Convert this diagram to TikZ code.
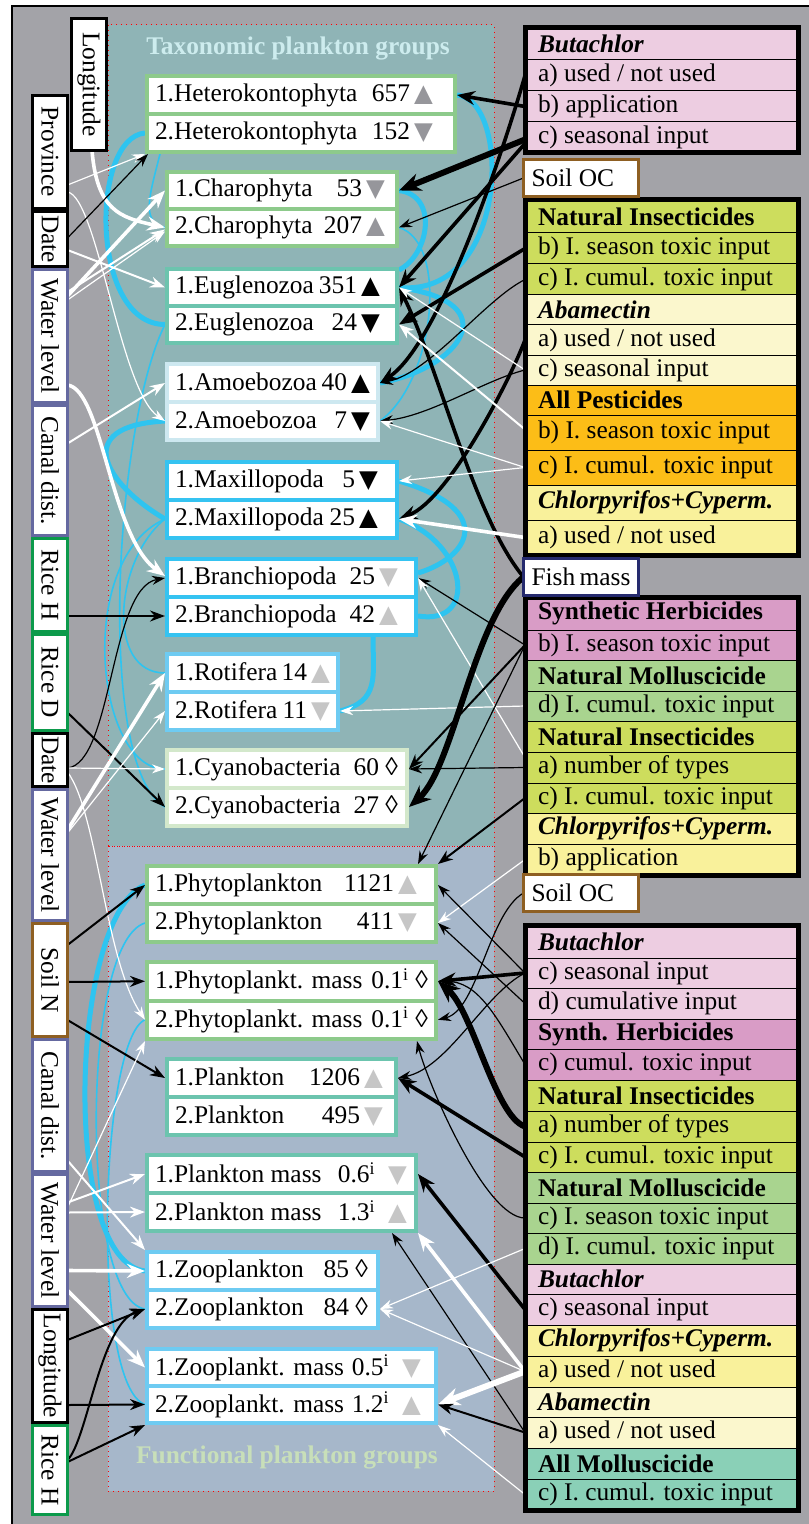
\documentclass[tikz,border=0pt]{standalone}
\usepackage{fontspec}
\usepackage{graphicx}
\setmainfont{Liberation Serif}
\newfontfamily\symf{DejaVu Sans}
\usetikzlibrary{arrows.meta,calc}
\pgfdeclarelayer{bg}\pgfdeclarelayer{mid}\pgfsetlayers{bg,mid,main}
\definecolor{greyc}{RGB}{163,163,168}
\definecolor{taxc}{RGB}{143,180,182}
\definecolor{funcc}{RGB}{166,183,202}
\definecolor{titA}{RGB}{205,236,238}
\definecolor{titB}{RGB}{200,223,185}
\definecolor{gfr}{RGB}{141,202,139}
\definecolor{tfr}{RGB}{108,196,174}
\definecolor{pbfr}{RGB}{205,232,240}
\definecolor{cfr}{RGB}{53,195,241}
\definecolor{lbfr}{RGB}{110,203,242}
\definecolor{pgfr}{RGB}{211,232,203}
\definecolor{lpur}{RGB}{101,105,160}
\definecolor{lgrn}{RGB}{12,154,75}
\definecolor{lbrn}{RGB}{142,95,34}
\definecolor{navyc}{RGB}{37,42,110}
\definecolor{pinkl}{RGB}{237,205,225}
\definecolor{pinkd}{RGB}{217,156,198}
\definecolor{limec}{RGB}{205,221,93}
\definecolor{paley}{RGB}{251,247,205}
\definecolor{orng}{RGB}{252,189,23}
\definecolor{yelc}{RGB}{249,241,155}
\definecolor{grnm}{RGB}{169,212,143}
\definecolor{tealm}{RGB}{138,208,183}
\definecolor{cyanl}{RGB}{46,196,240}
\definecolor{gd}{RGB}{150,150,155}
\definecolor{gl}{RGB}{198,198,198}
\newcommand\myfs{\fontsize{12.7}{15}\selectfont}
\newcommand\tup[1]{{\symf\fontsize{12.2}{13}\selectfont\textcolor{#1}{▲}}}
\newcommand\tdn[1]{{\symf\fontsize{12.2}{13}\selectfont\textcolor{#1}{▼}}}
\newcommand\mpair[9]{%
 \pgfmathsetmacro\mpw{(#4-#2-4)*0.5}%
 \pgfmathsetmacro\mptw{(#4-#2-4)*0.5-8}%
 \pgfmathsetmacro\mph{((#5-#3)/2-2)*0.5}%
 \pgfmathsetmacro\mpy{(#3+#5)/2-2}%
 \node[mrow, draw=#6, minimum width=\mpw pt, minimum height=\mph pt, anchor=north west] (#1A) at (#2,#3) {\hbox to \mptw pt{#7\hspace*{#9pt}}};%
 \node[mrow, draw=#6, minimum width=\mpw pt, minimum height=\mph pt, anchor=north west] (#1B) at (#2,\mpy) {\hbox to \mptw pt{#8\hspace*{#9pt}}};%
}
\newcommand\lbl[7]{%
 \node[lblst, draw=#6, minimum width={(#4-#2-3)*0.5pt}, minimum height={(#5-#3-3)*0.5pt}] (#1) at ({(#2+#4)/2},{(#3+#5)/2}) {\rotatebox{-90}{#7}};%
}
\newcommand\rrow[5]{%
 \node[rrst, fill=#4, minimum height={(#3-#2)*0.5pt}, anchor=north west] (#1) at (525,#2) {\hbox to 123.5pt{#5\hfil}};%
}
\newcommand\bi[1]{\textbf{\textit{#1}}}
\begin{document}
\begin{tikzpicture}[x=0.5pt,y=-0.5pt,
 mrow/.style={fill=white, line width=2pt, outer sep=1pt, inner xsep=4pt, inner ysep=0pt, font=\myfs},
 lblst/.style={fill=white, line width=1.5pt, outer sep=0pt, inner sep=0pt, font=\myfs},
 rrst/.style={draw=black, line width=0.5pt, outer sep=0pt, inner xsep=6.5pt, inner ysep=0pt, minimum width=136.5pt, font=\myfs},
 gbord/.style={line width=2.5pt},
 boxst/.style={fill=white, line width=1.5pt, outer sep=0pt, inner xsep=4pt, inner ysep=0pt, minimum width=57.5pt, minimum height=18.5pt, anchor=north west, font=\myfs},
 ba/.style={draw=black, line width=0.6pt, -{Stealth[length=6.5pt,width=4.5pt]}},
 bam/.style={draw=black, line width=1pt, -{Stealth[length=7.5pt,width=5.5pt]}},
 bat/.style={draw=black, line width=1.8pt, -{Stealth[length=9pt,width=7pt]}},
 battt/.style={draw=black, line width=3pt, -{Stealth[length=11pt,width=9pt]}},
 wa/.style={draw=white, line width=0.6pt, -{Stealth[length=6.5pt,width=4.5pt]}},
 wam/.style={draw=white, line width=1pt, -{Stealth[length=7.5pt,width=5.5pt]}},
 wat/.style={draw=white, line width=1.8pt, -{Stealth[length=9pt,width=7pt]}},
 wattt/.style={draw=white, line width=3pt, -{Stealth[length=11pt,width=9pt]}},
 cy/.style={draw=cyanl, line width=0.8pt},
 cyt/.style={draw=cyanl, line width=2.5pt},
 pdot/.style={draw=red, dotted, line width=0.5pt}]
\useasboundingbox (0,0) rectangle (808,1524);
\begin{pgfonlayer}{bg}
\fill[greyc] (12,6) rectangle (812,1528);
\draw[line width=1pt] (12,1528) -- (12,6) -- (812,6);
\fill[taxc] (108,25) rectangle (494,846);
\fill[funcc] (108,846) rectangle (494,1491);
\draw[pdot] (108,25) rectangle (494,846);
\draw[pdot] (108,846) rectangle (494,1491);
\end{pgfonlayer}
\node[font=\myfs\bfseries, text=titA] (ttlA) at (298,48) {Taxonomic plankton groups};
\node[font=\myfs\bfseries, text=titB] (ttlB) at (287,1457) {Functional plankton groups};
% left labels
\lbl{lonA}{70}{17}{108}{152}{black}{Longitude}
\lbl{prov}{31}{94}{69}{210}{black}{Province}
\lbl{dateA}{31}{210}{69}{268}{black}{Date}
\lbl{watA}{31}{268}{69}{404}{lpur}{Water level}
\lbl{canA}{31}{404}{69}{537}{lpur}{Canal dist.}
\lbl{riceHA}{31}{537}{69}{633}{lgrn}{Rice H}
\lbl{riceD}{31}{633}{69}{732}{lgrn}{Rice D}
\lbl{dateB}{31}{732}{69}{788}{black}{Date}
\lbl{watB}{31}{788}{69}{922}{lpur}{Water level}
\lbl{soilN}{31}{922}{69}{1038}{lbrn}{Soil N}
\lbl{canB}{31}{1038}{69}{1173}{lpur}{Canal dist.}
\lbl{watC}{31}{1173}{69}{1308}{lpur}{Water level}
\lbl{lonB}{31}{1308}{69}{1424}{black}{Longitude}
\lbl{riceHB}{31}{1424}{69}{1516}{lgrn}{Rice H}
% middle pairs
\mpair{het}{145}{74}{457}{154}{gfr}{1.Heterokontophyta\hfill 657\,\tup{gd}}{2.Heterokontophyta\hfill 152\,\tdn{gd}}{7}
\mpair{cha}{165}{170}{399}{248}{gfr}{1.Charophyta\hfill 53\,\tdn{gd}}{2.Charophyta\hfill 207\,\tup{gd}}{2}
\mpair{eug}{165}{267}{399}{345}{tfr}{1.Euglenozoa\hfill 351\,\tup{black}}{2.Euglenozoa\hfill 24\,\tdn{black}}{4.5}
\mpair{amo}{165}{362}{380}{442}{pbfr}{1.Amoebozoa\hfill 40\,\tup{black}}{2.Amoebozoa\hfill 7\,\tdn{black}}{0}
\mpair{max}{165}{460}{399}{540}{cfr}{1.Maxillopoda\hfill 5\,\tdn{black}}{2.Maxillopoda\hfill 25\,\tup{black}}{5.5}
\mpair{bra}{165}{557}{418}{637}{cfr}{1.Branchiopoda\hfill 25\,\tdn{gl}}{2.Branchiopoda\hfill 42\,\tup{gl}}{5}
\mpair{rot}{165}{652}{340}{732}{lbfr}{1.Rotifera\hfill 14\,\tup{gl}}{2.Rotifera\hfill 11\,\tdn{gl}}{0}
\mpair{cya}{165}{748}{409}{828}{pgfr}{1.Cyanobacteria\hfill 60 ◊}{2.Cyanobacteria\hfill 27 ◊}{0.5}
\mpair{phy}{145}{864}{438}{944}{gfr}{1.Phytoplankton\hfill 1121\,\tup{gl}}{2.Phytoplankton\hfill 411\,\tdn{gl}}{5.5}
\mpair{phm}{145}{960}{438}{1041}{gfr}{1.Phytoplankt. mass\hfill 0.1\textsuperscript{i} ◊}{2.Phytoplankt. mass\hfill 0.1\textsuperscript{i} ◊}{0}
\mpair{pla}{165}{1057}{398}{1137}{tfr}{1.Plankton\hfill 1206\,\tup{gl}}{2.Plankton\hfill 495\,\tdn{gl}}{2.5}
\mpair{plm}{145}{1153}{418}{1233}{tfr}{1.Plankton mass\hfill 0.6\textsuperscript{i}\enspace\tdn{gl}}{2.Plankton mass\hfill 1.3\textsuperscript{i}\enspace\tup{gl}}{0.5}
\mpair{zoo}{145}{1250}{380}{1330}{lbfr}{1.Zooplankton\hfill 85 ◊}{2.Zooplankton\hfill 84 ◊}{1}
\mpair{zom}{145}{1347}{438}{1425}{lbfr}{1.Zooplankt. mass\hfill 0.5\textsuperscript{i}\enspace\tdn{gl}}{2.Zooplankt. mass\hfill 1.2\textsuperscript{i}\enspace\tup{gl}}{3.5}
% right groups
\rrow{b1h}{28}{60}{pinkl}{\bi{Butachlor}}
\rrow{b1a}{60}{91}{pinkl}{a) used / not used}
\rrow{b1b}{91}{122}{pinkl}{b) application}
\rrow{b1c}{122}{153}{pinkl}{c) seasonal input}
\draw[gbord] (b1h.north west) rectangle (b1c.south east);
\rrow{ni1h}{200}{233}{limec}{\textbf{Natural Insecticides}}
\rrow{ni1b}{233}{264}{limec}{b) I. season toxic input}
\rrow{ni1c}{264}{295}{limec}{c) I. cumul. toxic input}
\rrow{ab1h}{295}{325}{paley}{\bi{Abamectin}}
\rrow{ab1a}{325}{355}{paley}{a) used / not used}
\rrow{ab1c}{355}{385}{paley}{c) seasonal input}
\rrow{ap1h}{385}{415}{orng}{\textbf{All Pesticides}}
\rrow{ap1b}{415}{450}{orng}{b) I. season toxic input}
\rrow{ap1c}{450}{485}{orng}{c) I. cumul. toxic input}
\rrow{ch1h}{485}{520}{yelc}{\bi{Chlorpyrifos+Cyperm.}}
\rrow{ch1a}{520}{555}{yelc}{a) used / not used}
\draw[gbord] (ni1h.north west) rectangle (ch1a.south east);
\rrow{sh1h}{597}{630}{pinkd}{\textbf{Synthetic Herbicides}}
\rrow{sh1b}{630}{660}{pinkd}{b) I. season toxic input}
\rrow{nm1h}{660}{691}{grnm}{\textbf{Natural Molluscicide}}
\rrow{nm1d}{691}{721}{grnm}{d) I. cumul. toxic input}
\rrow{ni2h}{721}{752}{limec}{\textbf{Natural Insecticides}}
\rrow{ni2a}{752}{783}{limec}{a) number of types}
\rrow{ni2c}{783}{813}{limec}{c) I. cumul. toxic input}
\rrow{ch2h}{813}{844}{yelc}{\bi{Chlorpyrifos+Cyperm.}}
\rrow{ch2b}{844}{875}{yelc}{b) application}
\draw[gbord] (sh1h.north west) rectangle (ch2b.south east);
\rrow{b2h}{925}{958}{pinkl}{\bi{Butachlor}}
\rrow{b2c}{958}{988}{pinkl}{c) seasonal input}
\rrow{b2d}{988}{1019}{pinkl}{d) cumulative input}
\rrow{sh2h}{1019}{1049}{pinkd}{\textbf{Synth. Herbicides}}
\rrow{sh2c}{1049}{1080}{pinkd}{c) cumul. toxic input}
\rrow{ni3h}{1080}{1111}{limec}{\textbf{Natural Insecticides}}
\rrow{ni3a}{1111}{1142}{limec}{a) number of types}
\rrow{ni3c}{1142}{1172}{limec}{c) I. cumul. toxic input}
\rrow{nm2h}{1172}{1203}{grnm}{\textbf{Natural Molluscicide}}
\rrow{nm2c}{1203}{1233}{grnm}{c) I. season toxic input}
\rrow{nm2d}{1233}{1264}{grnm}{d) I. cumul. toxic input}
\rrow{b3h}{1264}{1294}{pinkl}{\bi{Butachlor}}
\rrow{b3c}{1294}{1325}{pinkl}{c) seasonal input}
\rrow{ch3h}{1325}{1356}{yelc}{\bi{Chlorpyrifos+Cyperm.}}
\rrow{ch3a}{1356}{1387}{yelc}{a) used / not used}
\rrow{ab2h}{1387}{1417}{paley}{\bi{Abamectin}}
\rrow{ab2a}{1417}{1448}{paley}{a) used / not used}
\rrow{am1h}{1448}{1479}{tealm}{\textbf{All Molluscicide}}
\rrow{am1c}{1479}{1510}{tealm}{c) I. cumul. toxic input}
\draw[gbord] (b2h.north west) rectangle (am1c.south east);
% small boxes
\node[boxst, draw=lbrn] (soc1) at (523.5,159.5) {\hbox to 49.5pt{Soil OC\hfil}};
\node[boxst, draw=navyc] (fish) at (523.5,558.5) {\hbox to 49.5pt{Fish mass\hfil}};
\node[boxst, draw=lbrn] (soc2) at (523.5,874.5) {\hbox to 49.5pt{Soil OC\hfil}};
\begin{pgfonlayer}{mid}
% cyan links
\draw[cyt] (hetB.west) .. controls +(-55,5) and +(-75,0) .. (eugB.west);
\draw[cy] ($(hetB.south west)+(15,0)$) .. controls +(-10,40) and +(-25,-5) .. (chaB.west);
\draw[cyt] (hetA.east) .. controls +(55,5) and +(110,10) .. (eugA.east);
\draw[cyt] (chaA.east) .. controls +(40,5) and +(30,-15) .. ($(eugA.north east)+(0,3)$);
\draw[cy] (chaB.east) .. controls +(50,15) and +(55,-40) .. (amoB.east);
\draw[cyt] (eugA.east) .. controls +(110,15) and +(80,-15) .. (amoA.east);
\draw[cyt] (amoB.west) .. controls +(-95,5) and +(-60,-35) .. (maxB.west);
\draw[cy] (eugB.west) .. controls +(-50,100) and +(-70,-40) .. (cyaB.west);
\draw[cy] (maxB.west) .. controls +(-90,40) and +(-70,0) .. (cyaA.west);
\draw[cy] (rotA.west) .. controls +(-60,0) and +(-50,40) .. (maxB.west);
\draw[cyt] (rotB.east) .. controls +(40,-10) and +(0,40) .. ($(braB.south east)+(-45,0)$);
\draw[cyt] (maxA.east) .. controls +(100,30) and +(50,-15) .. ($(braA.east)+(0,-5)$);
\draw[cyt] (maxB.east) .. controls +(70,25) and +(60,10) .. (braB.east);
\draw[cyt] (phyA.west) .. controls +(-75,30) and +(-85,-10) .. (zooA.west);
\draw[cy] (phyB.west) .. controls +(-65,20) and +(-65,-10) .. (zooB.west);
\draw[cy] (phmB.west) .. controls +(-45,20) and +(-55,-20) .. (zomB.west);
% left connectors
\draw[wat] ($(lonA.south)+(3,0)$) .. controls +(5,60) and +(-45,-10) .. (chaB.west);
\draw[wa] ($(prov.east)+(0,33)$) -- (hetB.south west);
\draw[wa] ($(prov.east)+(0,40)$) .. controls +(30,5) and +(-45,-30) .. (amoB.west);
\draw[ba] ($(dateA.east)+(0,-1)$) -- ($(hetB.south west)+(3,0)$);
\draw[wam] ($(dateA.east)+(0,11)$) -- (eugA.west);
\draw[wat] ($(watA.east)+(0,-40)$) -- (chaA.west);
\draw[wam] ($(watA.east)+(0,-44)$) -- ($(chaB.west)+(0,2)$);
\draw[wa] ($(watA.east)+(0,-36)$) -- ($(chaB.west)+(0,4)$);
\draw[wat] ($(watA.east)+(0,49)$) .. controls +(35,5) and +(-55,-40) .. ($(braA.west)+(0,-2)$);
\draw[wam] ($(canA.east)+(0,-27)$) -- (amoA.west);
\draw[bam] ($(riceHA.east)+(0,31)$) -- (braB.west);
\draw[bam] ($(riceD.east)+(0,30)$) -- (cyaB.west);
\draw[ba] ($(dateB.east)+(0,8)$) .. controls +(45,-5) and +(-55,10) .. (braA.west);
\draw[wa] ($(dateB.east)+(0,8)$) -- (cyaA.west);
\draw[wa] ($(dateB.east)+(0,12)$) .. controls +(30,40) and +(-40,-60) .. (phmB.west);
\draw[wat] ($(watB.east)+(0,-25)$) -- (rotA.west);
\draw[wa] ($(watB.east)+(0,-22)$) -- (rotB.west);
\draw[bam] ($(soilN.east)+(0,-35)$) -- (phyA.west);
\draw[bam] ($(soilN.east)+(0,2)$) -- (phmA.west);
\draw[bam] ($(soilN.east)+(0,40)$) -- (plaA.west);
\draw[wam] ($(canB.east)+(0,55)$) -- (zooA.north west);
\draw[wa] ($(watC.east)+(0,-33)$) -- (phmB.south west);
\draw[wam] ($(watC.east)+(0,-38)$) -- (plmA.west);
\draw[wam] ($(watC.east)+(0,-28)$) -- (plmB.west);
\draw[wat] ($(watC.east)+(0,30)$) -- (zooA.west);
\draw[wat] ($(watC.east)+(0,50)$) -- (zomA.west);
\draw[bam] ($(lonB.east)+(0,-26)$) -- (zooB.west);
\draw[bam] ($(lonB.east)+(0,39)$) -- (zomB.west);
\draw[bam] ($(riceHB.east)+(0,-8)$) -- (zomB.south west);
\draw[bam] ($(riceHB.east)+(0,-10)$) .. controls +(20,-20) and +(-45,15) .. (zooB.west);
% right connectors, upper panel
\draw[bat] (b1b.west) -- (hetA.east);
\draw[battt] ($(b1c.west)+(0,2)$) -- (chaA.east);
\draw[bat] ($(b1c.west)+(0,6)$) -- (eugA.east);
\draw[bat] (b1a.west) .. controls +(-20,70) and +(60,-40) .. (amoA.east);
\draw[ba] (soc1.west) -- (chaB.east);
\draw[bat] (ni1b.west) -- (eugB.east);
\draw[ba] (ni1c.west) .. controls +(-40,20) and +(50,-10) .. (amoA.east);
\draw[ba] (ab1c.west) .. controls +(-40,10) and +(50,-5) .. (amoB.east);
\draw[bat] (ab1a.west) .. controls +(-15,40) and +(50,-20) .. (maxB.east);
\draw[bat] (fish.west) .. controls +(-50,-60) and +(40,80) .. (eugA.east);
\draw[wam] ($(ap1b.west)+(0,-3)$) -- (eugB.east);
\draw[wa] (ab1c.west) -- (eugA.east);
\draw[wa] (ap1c.west) -- (amoB.east);
\draw[wa] (ap1c.west) -- (maxA.east);
\draw[wat] (ch1a.west) -- (maxB.east);
\draw[ba] (sh1b.west) -- (braA.east);
\draw[wa] ($(ni2a.west)+(0,-10)$) -- (braA.east);
\draw[wa] (nm1d.west) -- (rotB.east);
\draw[bam] (sh1b.west) -- (cyaA.east);
\draw[ba] (ni2a.west) -- (cyaA.east);
\draw[battt] (fish.west) .. controls +(-50,40) and +(45,-40) .. (cyaB.east);
% right connectors, lower panel
\draw[ba] (sh1b.west) -- ($(phyA.north east)+(-20,0)$);
\draw[bam] (ni2c.west) -- (phyA.north east);
\draw[wa] (ch2b.west) -- (phyB.east);
\draw[ba] (b2c.west) -- (phyA.east);
\draw[ba] (b2d.west) -- (phyB.east);
\draw[bat] (b2c.west) -- (phmA.east);
\draw[ba] (soc2.west) .. controls +(-35,20) and +(40,-10) .. (phmB.east);
\draw[ba] (b2c.west) .. controls +(-40,20) and +(50,-10) .. (plaA.east);
\draw[ba] (sh2c.west) .. controls +(-30,-50) and +(40,0) .. (phmA.east);
\draw[battt] (ni3a.west) .. controls +(-30,-10) and +(35,30) .. (phmA.east);
\draw[bat] (ni3c.west) -- (plaA.east);
\draw[ba] (nm2c.west) .. controls +(-40,0) and +(10,40) .. ($(phmB.south east)+(-21,0)$);
\draw[ba] (ab2a.west) -- ($(plmB.south east)+(-26,0)$);
\draw[bat] (b3c.west) -- (plmA.east);
\draw[wa] (nm2d.west) -- (zooB.east);
\draw[wa] (ch3a.west) -- (zooB.east);
\draw[wat] (ch3a.west) -- (plmB.south east);
\draw[wattt] (ch3a.west) -- (zomB.east);
\draw[bam] (ab2a.west) -- (zomB.east);
\draw[wa] (am1c.west) -- (zomB.south east);
\end{pgfonlayer}
\end{tikzpicture}
\end{document}
